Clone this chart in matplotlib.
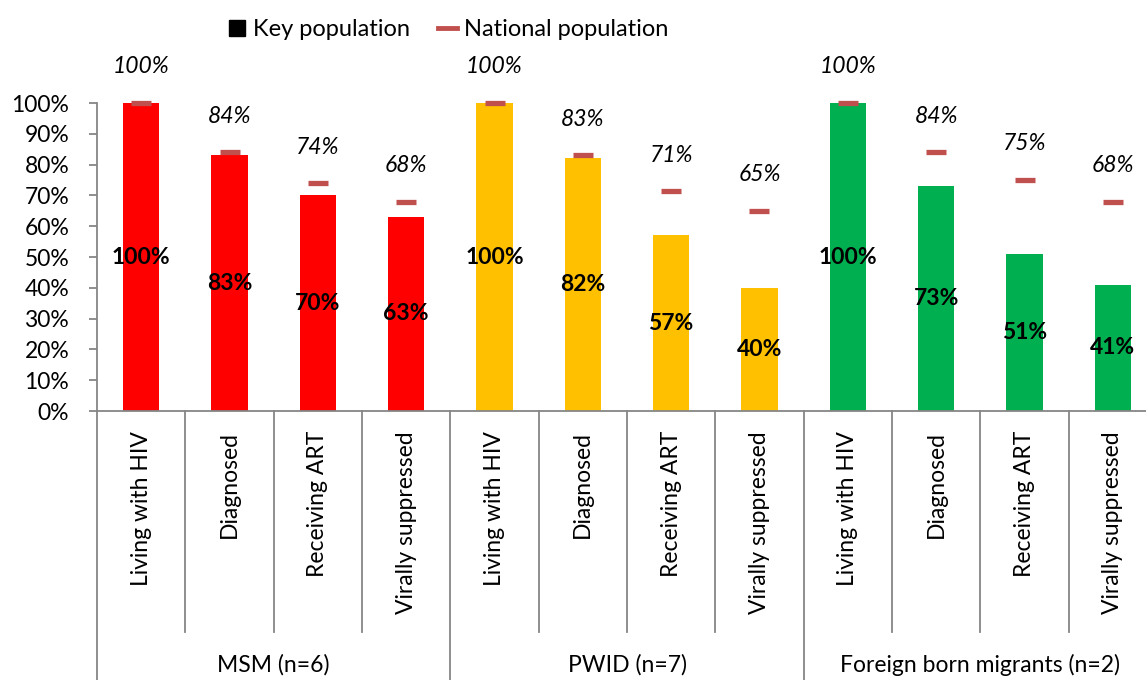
import matplotlib
matplotlib.use("Agg")
import matplotlib.pyplot as plt
from matplotlib.lines import Line2D
import matplotlib.transforms as mtransforms
from matplotlib.ticker import PercentFormatter

plt.rcParams['font.family'] = ['Lato', 'DejaVu Sans']

groups = ["MSM (n=6)", "PWID (n=7)", "Foreign born migrants (n=2)"]
stages = ["Living with HIV", "Diagnosed", "Receiving ART", "Virally suppressed"]
key_msm = [100, 83, 70, 63]
key_pwid = [100, 82, 57, 40]
key_fbm = [100, 73, 51, 41]
nat_msm = [100, 84, 74, 68]
nat_pwid = [100, 83, 71.4, 65]
nat_fbm = [100, 84, 75, 68]
group_colors = ["#FF0000", "#FFC000", "#00B050"]
nat_color = "#C0504D"
axis_color = "#868686"

key_vals = [key_msm, key_pwid, key_fbm]
nat_vals = [nat_msm, nat_pwid, nat_fbm]

W, H = 1146, 680
fig = plt.figure(figsize=(W / 100, H / 100), dpi=100)
x0, x1 = 97, 1157
y_top, y_bot = 103, 411
ax = fig.add_axes([x0 / W, (H - y_bot) / H, (x1 - x0) / W, (y_bot - y_top) / H])

n_stage = len(stages)
fs = 16.5
trans = mtransforms.blended_transform_factory(ax.transData, ax.transAxes)
for g, (kv, nv, col) in enumerate(zip(key_vals, nat_vals, group_colors)):
    xs = [g * n_stage + i for i in range(n_stage)]
    ax.bar(xs, kv, width=0.41, color=col, zorder=2)
    ax.scatter(xs, nv, marker='_', s=210, linewidths=3.8, color=nat_color, zorder=3, clip_on=False)
    for x, k, n in zip(xs, kv, nv):
        ax.text(x, k / 2, f"{round(k)}%", ha='center', va='center', fontsize=fs,
                fontweight='bold', color='black', zorder=4)
        ax.text(x, n + 11.7, f"{round(n)}%", ha='center', va='center', fontsize=fs,
                style='italic', color='black', clip_on=False)
    for i, s in enumerate(stages):
        ax.text(g * n_stage + i, -0.065, s, rotation=90, ha='center', va='top',
                fontsize=fs, transform=trans)
    ax.text(g * n_stage + (n_stage - 1) / 2, -0.825, groups[g], ha='center', va='center',
            fontsize=fs, transform=trans)

# separators below the axis
total = len(groups) * n_stage
for b in range(total + 1):
    xb = b - 0.5
    ybottom = -0.88 if b % n_stage == 0 else -0.7175
    ax.plot([xb, xb], [0, ybottom], color=axis_color, lw=1.3, transform=trans, clip_on=False)

ax.set_xlim(-0.5, total - 0.5)
ax.set_ylim(0, 100)
ax.set_xticks([])
ax.set_yticks(range(0, 101, 10))
ax.yaxis.set_major_formatter(PercentFormatter(decimals=0))
ax.tick_params(axis='y', length=6, width=1.3, color=axis_color, pad=14, labelsize=fs)
for sp in ['top', 'right']:
    ax.spines[sp].set_visible(False)
for sp in ['left', 'bottom']:
    ax.spines[sp].set_color(axis_color)
    ax.spines[sp].set_linewidth(1.3)

handles = [
    Line2D([], [], marker='s', color='black', linestyle='None', markersize=11),
    Line2D([], [], color=nat_color, lw=3.5),
]
fig.legend(handles, ["Key population", "National population"], loc='center',
           bbox_to_anchor=(448 / W, 1 - 30 / H), ncol=2, frameon=False, fontsize=17,
           handlelength=0.8, handletextpad=0.3, columnspacing=1.2)

fig.savefig("out.png", dpi=100)
